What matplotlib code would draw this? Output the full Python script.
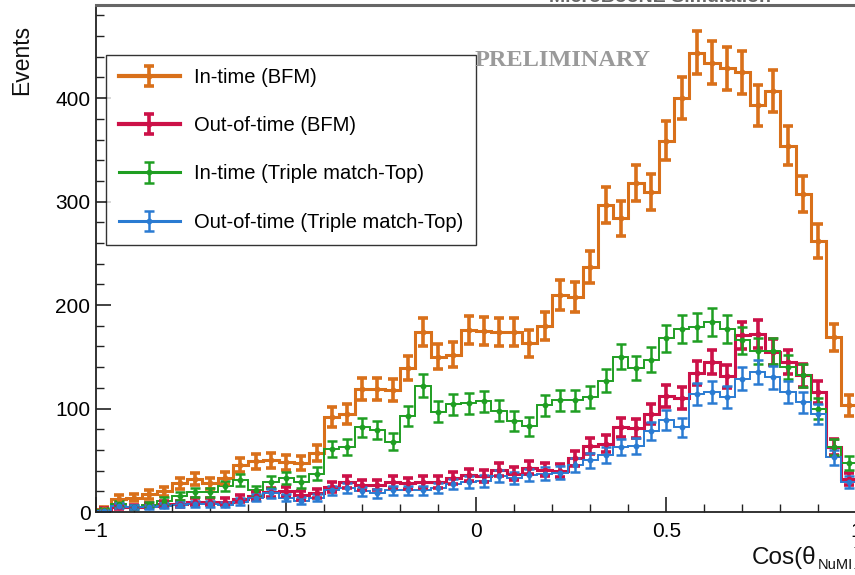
import numpy as np
import matplotlib
matplotlib.use("Agg")
import matplotlib.pyplot as plt
from matplotlib.lines import Line2D
from matplotlib.legend_handler import HandlerTuple
from matplotlib.transforms import offset_copy

# ---- binning: 50 bins over cos(theta) in [-1, 1] ----
bin_edges = np.linspace(-1.0, 1.0, 51)

# ---- event counts per bin ----
in_time_bfm = [3, 13, 14, 17, 20, 28, 32, 28, 33, 45,
               49, 50, 48, 47, 57, 92, 95, 119, 119, 118,
               139, 174, 150, 152, 176, 175, 174, 174, 163, 180,
               210, 208, 237, 297, 284, 318, 309, 359, 400, 444,
               434, 429, 425, 393, 407, 354, 307, 262, 169, 103]

out_time_bfm = [2, 5, 5, 6, 8, 8, 10, 10, 10, 13,
                15, 19, 20, 16, 18, 24, 29, 26, 26, 29,
                28, 29, 29, 33, 36, 35, 41, 37, 43, 41,
                40, 52, 64, 66, 82, 81, 95, 112, 110, 134,
                145, 131, 171, 172, 155, 145, 132, 116, 63, 32]

in_time_tm = [2, 8, 5, 7, 11, 15, 19, 19, 25, 31,
              21, 29, 33, 29, 37, 61, 63, 82, 79, 68,
              93, 122, 97, 104, 105, 107, 98, 88, 83, 103,
              108, 108, 111, 127, 150, 139, 147, 168, 177, 179,
              184, 177, 166, 156, 156, 140, 132, 100, 63, 47]

out_time_tm = [1, 6, 5, 5, 6, 7, 8, 8, 7, 10,
               14, 18, 14, 11, 14, 21, 23, 20, 18, 21,
               21, 21, 23, 27, 29, 30, 35, 33, 36, 37,
               38, 45, 50, 55, 63, 64, 78, 89, 82, 114,
               116, 111, 129, 135, 130, 116, 106, 95, 53, 29]

series_labels = ["In-time (BFM)", "Out-of-time (BFM)",
                 "In-time (Triple match-Top)", "Out-of-time (Triple match-Top)"]
series_colors = ["#D9701A", "#CC1148", "#1F9E22", "#2A7BD2"]
series_lw = [2.2, 2.2, 1.4, 1.4]
series_elw = [2.6, 2.6, 1.8, 1.8]

x_ticks = [-1, -0.5, 0, 0.5, 1]
x_tick_labels = ["\u22121", "\u22120.5", "0", "0.5", "1"]
y_ticks = [0, 100, 200, 300, 400]

plt.rcParams["font.family"] = ["Liberation Sans", "DejaVu Sans"]

W, H = 855, 575
fig = plt.figure(figsize=(W / 100, H / 100), dpi=100)
ax_left, ax_right, ax_bottom, ax_top = 96, 856.5, 512, 5
ax = fig.add_axes([ax_left / W, (H - ax_bottom) / H,
                   (ax_right - ax_left) / W, (ax_bottom - ax_top) / H])

centers = 0.5 * (bin_edges[:-1] + bin_edges[1:])
handles = []
for vals, lab, col, lw, elw in zip(
        [in_time_bfm, out_time_bfm, in_time_tm, out_time_tm],
        series_labels, series_colors, series_lw, series_elw):
    vals = np.asarray(vals, dtype=float)
    err = np.sqrt(vals)
    ax.stairs(vals, bin_edges, color=col, lw=lw, baseline=None)
    eb = ax.errorbar(centers, vals, yerr=err, fmt="o", ms=3.2, color=col,
                     ecolor=col, elinewidth=elw, capsize=3.4, capthick=elw)
    hline = Line2D([], [], color=col, lw=lw + 0.8)
    handles.append((hline, eb))

ax.set_xlim(-1, 1)
ax.set_ylim(0, 490)

ax.set_xticks(x_ticks)
ax.set_xticklabels(x_tick_labels)
ax.set_xticks(np.arange(-1, 1.001, 0.1), minor=True)
ax.set_yticks(y_ticks)
ax.set_yticks(np.arange(0, 490, 20), minor=True)

ax.tick_params(axis="both", which="major", direction="in", labelsize=15,
               color="#222222", width=1.2)
ax.tick_params(axis="x", which="major", length=11, pad=7)
ax.tick_params(axis="y", which="major", length=11, pad=4)
ax.tick_params(axis="x", which="minor", direction="in", length=6, width=1.0,
               color="#222222")
ax.tick_params(axis="y", which="minor", direction="in", length=6, width=1.0,
               color="#222222")

for side in ["left", "bottom"]:
    ax.spines[side].set_color("#222222")
    ax.spines[side].set_linewidth(1.3)
ax.spines["top"].set_color("#666666")
ax.spines["top"].set_linewidth(2.2)
ax.spines["right"].set_visible(False)

# y-axis title
fig.text(22 / W, 1 - 60 / H, "Events", rotation=90, fontsize=16.5,
         ha="center", va="center", color="#111111")

# x-axis title built from pieces: "Cos(θ", subscript "NuMI", ")"
fig.canvas.draw()
renderer = fig.canvas.get_renderer()
t_main = fig.text(752 / W, 1 - 564 / H, "Cos(\u03b8", fontsize=17.5,
                  ha="left", va="baseline", color="#111111")
bb = t_main.get_window_extent(renderer)
t_sub = fig.text(bb.x1 / W + 1 / W, 1 - 569 / H, "NuMI", fontsize=10.5,
                 ha="left", va="baseline", color="#111111")
bb2 = t_sub.get_window_extent(renderer)
fig.text(bb2.x1 / W + 1 / W, 1 - 564 / H, ")", fontsize=17.5,
         ha="left", va="baseline", color="#111111")

# watermark and header
fig.text(563 / W, 1 - 60 / H, "PRELIMINARY",
         fontsize=17.5, fontweight="bold", color="#9A9A9A", ha="center",
         va="center", family=["Liberation Serif", "DejaVu Serif"])
fig.text(660 / W, 1 - 1.5 / H, "MicroBooNE Simulation", fontsize=14,
         fontweight="bold", color="#666666", ha="center", va="baseline")

leg = ax.legend(handles, series_labels,
                handler_map={tuple: HandlerTuple(ndivide=1)},
                loc="upper left", bbox_to_anchor=(106 / W, 1 - 55 / H),
                bbox_transform=fig.transFigure, fontsize=14.5,
                frameon=True, fancybox=False, edgecolor="black",
                handlelength=3.0, handletextpad=0.7, labelspacing=1.45,
                borderpad=0.65, borderaxespad=0)
leg.get_frame().set_linewidth(1.0)

fig.savefig("out.png", dpi=100)
